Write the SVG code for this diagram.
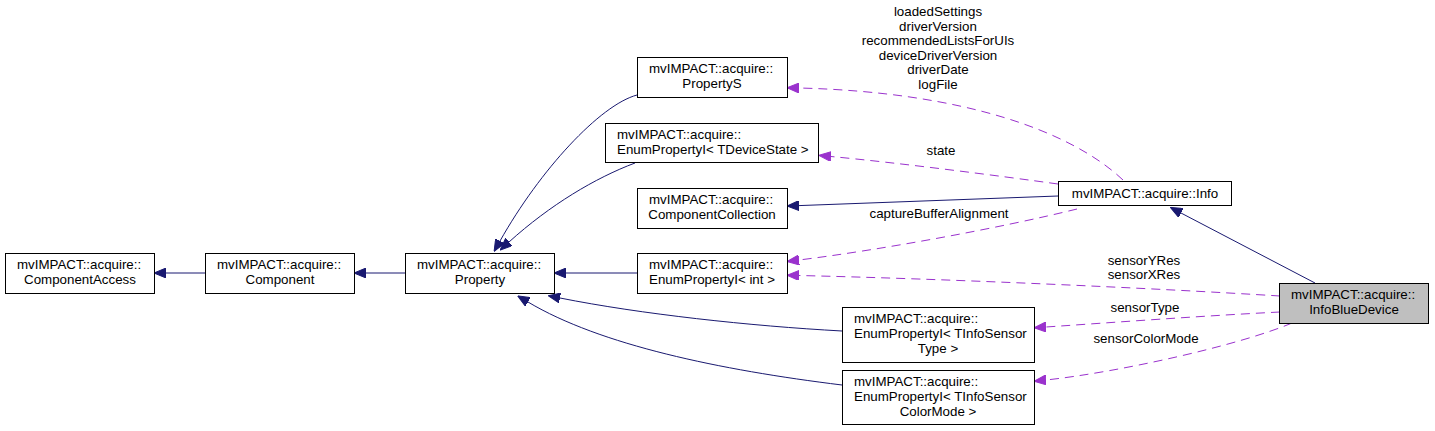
<svg xmlns="http://www.w3.org/2000/svg" width="1435" height="431" viewBox="0 0 1435 431">
<defs>
<style>
.n rect{fill:#fff;stroke:#000;stroke-width:1}
.n.hl rect{fill:#bfbfbf}
text{font-family:"Liberation Sans",Arial,sans-serif;font-size:13.33px;fill:#000}
.s{text-anchor:start}
.m{text-anchor:middle}
.inh{fill:none;stroke:#191970;stroke-width:1;marker-end:url(#ah)}
.use{fill:none;stroke:#9a32cd;stroke-width:1;stroke-dasharray:9,6;marker-end:url(#ap)}
</style>
<marker id="ah" viewBox="0 0 12 10" refX="0" refY="5" markerWidth="12" markerHeight="10" markerUnits="userSpaceOnUse" orient="auto"><path d="M0,0 L12,5 L0,10 z" fill="#191970" stroke="#191970" stroke-dasharray="none"/></marker>
<marker id="ap" viewBox="0 0 12 10" refX="0" refY="5" markerWidth="12" markerHeight="10" markerUnits="userSpaceOnUse" orient="auto"><path d="M0,0 L12,5 L0,10 z" fill="#9a32cd" stroke="#9a32cd" stroke-dasharray="none"/></marker>
</defs>
<rect width="1435" height="431" fill="#fff"/>
<g id="edges">
<path class="inh" d="M205,273 L166,273"/>
<path class="inh" d="M405,273 L366,273"/>
<path class="inh" d="M637,273 L566,273"/>
<path class="inh" d="M637,95 C600,105 540,170 500,241"/>
<path class="inh" d="M635,163 C595,178 550,205 509,242"/>
<path class="inh" d="M1058,196 L799,205.6"/>
<path class="inh" d="M842,331 C750,326 640,314 560,298"/>
<path class="inh" d="M842,385 C720,370 600,345 528,302"/>
<path class="inh" d="M1315,283 L1181,213"/>
<path class="use" d="M1123,180 C1070,130 960,92 799,88"/>
<path class="use" d="M1058,184 C1000,176 900,163 831,156.5"/>
<path class="use" d="M1077,209 C1000,228 880,250 799,260"/>
<path class="use" d="M1280,296 C1150,288 950,279 799,275.5"/>
<path class="use" d="M1280,312 C1200,316 1120,322 1046,327"/>
<path class="use" d="M1292,323 C1240,345 1120,372 1046,380"/>
<g class="lbl">
<text class="m" x="938" y="16">loadedSettings</text>
<text class="m" x="938" y="30.5">driverVersion</text>
<text class="m" x="938" y="45">recommendedListsForUIs</text>
<text class="m" x="938" y="59.5">deviceDriverVersion</text>
<text class="m" x="938" y="74">driverDate</text>
<text class="m" x="938" y="88.5">logFile</text>
<text class="m" x="941" y="155">state</text>
<text class="m" x="939" y="218">captureBufferAlignment</text>
<text class="m" x="1144" y="265">sensorYRes</text>
<text class="m" x="1144" y="279">sensorXRes</text>
<text class="m" x="1145" y="311.5">sensorType</text>
<text class="m" x="1146" y="343">sensorColorMode</text>
</g>
</g>
<g id="ComponentAccess" class="n"><rect x="5.5" y="253.5" width="149" height="40"/><text class="s" x="17" y="269">mvIMPACT::acquire::</text><text class="m" x="80" y="284">ComponentAccess</text></g>
<g id="Component" class="n"><rect x="205.5" y="253.5" width="149" height="40"/><text class="s" x="217" y="269">mvIMPACT::acquire::</text><text class="m" x="280" y="284">Component</text></g>
<g id="Property" class="n"><rect x="405.5" y="253.5" width="149" height="40"/><text class="s" x="417" y="269">mvIMPACT::acquire::</text><text class="m" x="480" y="284">Property</text></g>
<g id="PropertyS" class="n"><rect x="637.5" y="57.5" width="150" height="40"/><text class="s" x="649" y="73">mvIMPACT::acquire::</text><text class="m" x="712" y="88">PropertyS</text></g>
<g id="EnumPropertyTDeviceState" class="n"><rect x="605.5" y="123.5" width="213" height="39"/><text class="s" x="617" y="139">mvIMPACT::acquire::</text><text class="s" x="617" y="154">EnumPropertyI&lt; TDeviceState &gt;</text></g>
<g id="ComponentCollection" class="n"><rect x="637.5" y="188.5" width="150" height="40"/><text class="s" x="649" y="204">mvIMPACT::acquire::</text><text class="m" x="712" y="219">ComponentCollection</text></g>
<g id="EnumPropertyInt" class="n"><rect x="637.5" y="253.5" width="150" height="40"/><text class="s" x="649" y="269">mvIMPACT::acquire::</text><text class="m" x="712" y="284">EnumPropertyI&lt; int &gt;</text></g>
<g id="Info" class="n"><rect x="1058.5" y="181.5" width="173" height="24"/><text class="m" x="1145" y="197.5">mvIMPACT::acquire::Info</text></g>
<g id="EnumPropertyTInfoSensorType" class="n"><rect x="842.5" y="307.5" width="192" height="55"/><text class="s" x="854" y="323">mvIMPACT::acquire::</text><text class="s" x="854" y="338">EnumPropertyI&lt; TInfoSensor</text><text class="m" x="938" y="353">Type &gt;</text></g>
<g id="EnumPropertyTInfoSensorColorMode" class="n"><rect x="842.5" y="370.5" width="192" height="54"/><text class="s" x="854" y="386">mvIMPACT::acquire::</text><text class="s" x="854" y="401">EnumPropertyI&lt; TInfoSensor</text><text class="m" x="938" y="416">ColorMode &gt;</text></g>
<g id="InfoBlueDevice" class="n hl"><rect x="1279.5" y="283.5" width="149" height="40"/><text class="s" x="1291" y="299">mvIMPACT::acquire::</text><text class="m" x="1354" y="314">InfoBlueDevice</text></g>
</svg>
